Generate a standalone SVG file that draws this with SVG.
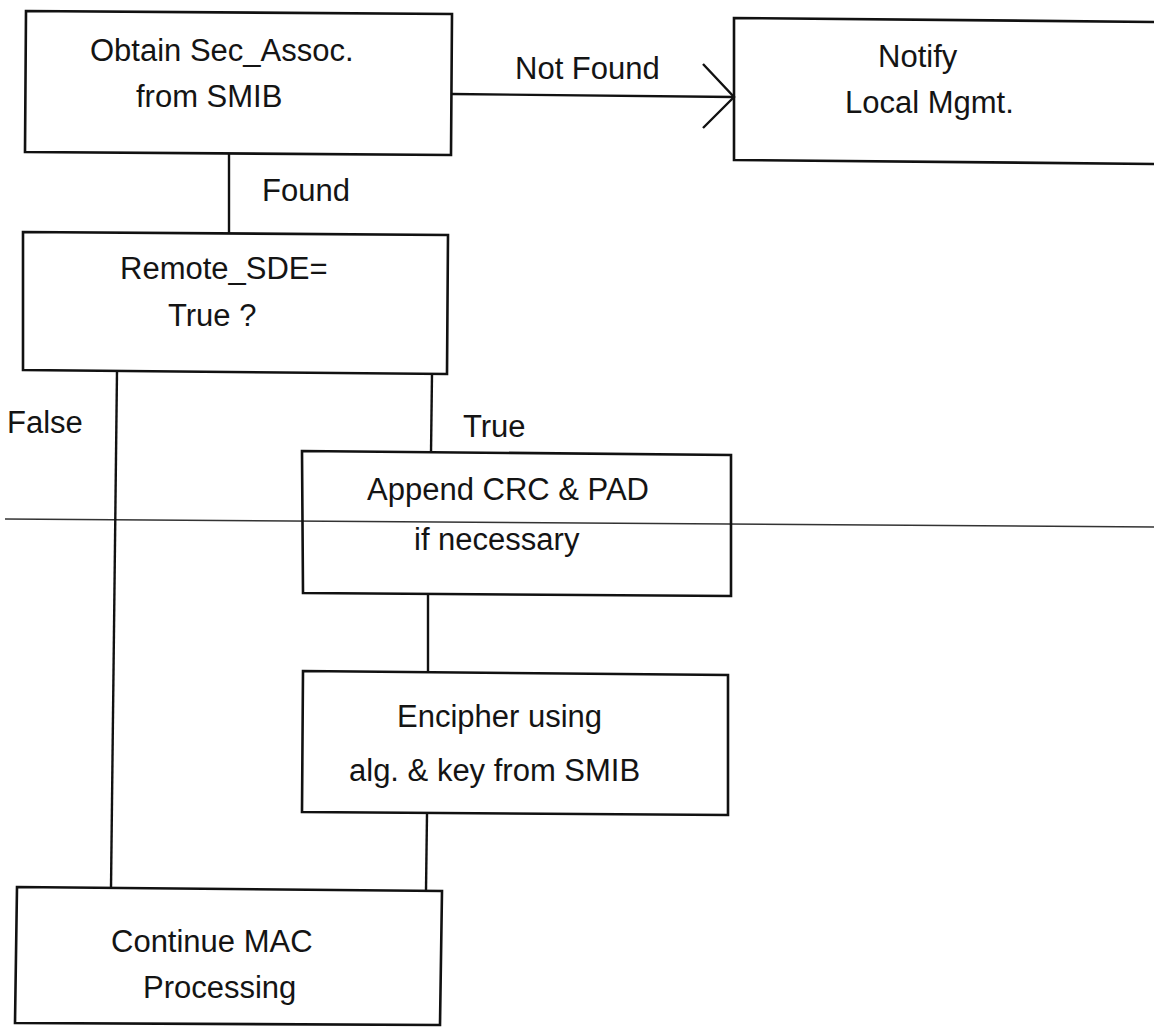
<svg xmlns="http://www.w3.org/2000/svg" width="1154" height="1027" viewBox="0 0 1154 1027">
<style>
.box{fill:none;stroke:#111;stroke-width:2.6;stroke-linejoin:miter}
.wire{fill:none;stroke:#111;stroke-width:2.4}
.fold{fill:none;stroke:#333;stroke-width:1.6}
text{font-family:"Liberation Sans",Arial,sans-serif;font-size:31px;fill:#141414}
</style>
<rect width="1154" height="1027" fill="#fff"/>
<line class="fold" x1="5" y1="519" x2="1154" y2="527"/>
<g id="connectors">
  <line class="wire" x1="452" y1="94" x2="734" y2="97"/>
  <polyline class="wire" points="703,64 734,97 703,128"/>
  <text x="515" y="79">Not Found</text>
  <line class="wire" x1="229" y1="154" x2="229" y2="233"/>
  <text x="262" y="201">Found</text>
  <line class="wire" x1="117" y1="371" x2="111" y2="888"/>
  <text x="7" y="433">False</text>
  <line class="wire" x1="432" y1="374" x2="431" y2="453"/>
  <text x="463" y="437">True</text>
  <line class="wire" x1="428" y1="595" x2="428" y2="673"/>
  <line class="wire" x1="427" y1="814" x2="426" y2="890"/>
</g>
<g id="obtain">
  <polygon class="box" points="26,11 452,14 451,155 25,152"/>
  <text x="90" y="61">Obtain Sec_Assoc.</text>
  <text x="136" y="107">from SMIB</text>
</g>
<g id="notify">
  <polyline class="box" points="1160,22 734,18 734,160 1160,164"/>
  <text x="878" y="67">Notify</text>
  <text x="845" y="113">Local Mgmt.</text>
</g>
<g id="remote">
  <polygon class="box" points="23,232 448,235 447,374 23,370"/>
  <text x="120" y="279">Remote_SDE=</text>
  <text x="168" y="326">True ?</text>
</g>
<g id="append">
  <polygon class="box" points="302,451 731,455 731,596 303,593"/>
  <text x="367" y="500">Append CRC &amp; PAD</text>
  <text x="414" y="550">if necessary</text>
</g>
<g id="encipher">
  <polygon class="box" points="303,671 728,675 728,815 302,812"/>
  <text x="397" y="727">Encipher using</text>
  <text x="349" y="781">alg. &amp; key from SMIB</text>
</g>
<g id="continue">
  <polygon class="box" points="17,887 442,891 440,1025 15,1023"/>
  <text x="111" y="952">Continue MAC</text>
  <text x="143" y="998">Processing</text>
</g>
</svg>
